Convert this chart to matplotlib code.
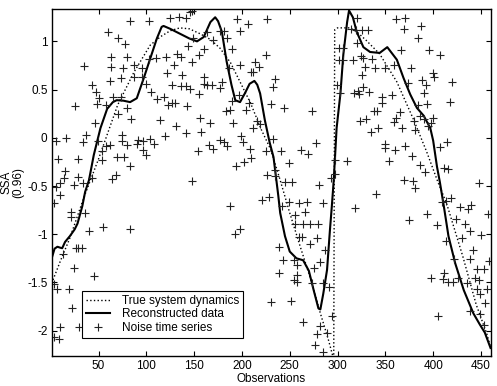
import matplotlib
matplotlib.use("Agg")
import matplotlib.pyplot as plt

# True system dynamics
true_x = [1, 10, 20, 35, 50, 70, 87, 104, 115, 125, 135, 145, 156, 167, 177, 188, 198, 209,
          220, 230, 240, 250, 261, 272, 282, 290, 296,
          297, 300, 313, 320, 330, 344, 362, 379, 393, 405, 414, 431, 445, 456, 460]
true_y = [-1.51, -1.28, -1.04, -0.61, -0.22, 0.34, 0.68, 0.96, 1.05, 1.11, 1.14, 1.13, 1.08, 1.02,
          0.93, 0.78, 0.58, 0.36, 0.09, -0.12, -0.44, -0.78, -1.13, -1.47, -1.82, -2.08, -2.30,
          1.12, 1.14, 1.14, 1.10, 1.01, 0.87, 0.58, 0.20, -0.14, -0.46, -0.68, -1.23, -1.73, -2.03, -2.17]

# Reconstructed data (solid curve)
recon_x = [1, 4, 7, 10, 12, 15, 20, 25, 28, 33, 36, 40, 45, 52, 59, 65, 69, 76, 83, 90, 97, 104,
           111, 116, 118, 125, 135, 145, 153, 160, 167, 172, 175, 179, 184, 189, 193, 198, 203, 208,
           213, 216, 219, 224, 229, 233, 238, 240, 245, 250, 257, 264, 270, 275, 280, 282, 285, 289,
           292, 294, 296, 299, 303, 306, 310, 312, 316, 320, 327, 334, 344, 352, 362, 369, 376, 383,
           390, 397, 400, 404, 407, 411, 416, 423, 432, 442, 449, 454, 460]
recon_y = [-1.25, -1.15, -1.13, -1.14, -1.145, -1.08, -1.02, -0.95, -0.89, -0.71, -0.56, -0.44, -0.18,
           0.10, 0.30, 0.37, 0.39, 0.385, 0.37, 0.41, 0.61, 0.82, 1.03, 1.15, 1.16, 1.13, 1.08, 1.03,
           1.00, 1.045, 1.20, 1.25, 1.21, 1.10, 0.79, 0.55, 0.39, 0.37, 0.46, 0.56, 0.59, 0.55, 0.46,
           0.18, -0.05, -0.20, -0.60, -0.78, -1.02, -1.18, -1.25, -1.27, -1.38, -1.58, -1.77, -1.78,
           -1.62, -1.37, -0.96, -0.71, -0.44, 0.10, 0.46, 0.86, 1.20, 1.32, 1.25, 1.10, 0.94, 0.89,
           0.88, 0.94, 0.81, 0.62, 0.45, 0.31, 0.23, 0.10, -0.03, -0.30, -0.46, -0.70, -1.02, -1.30,
           -1.58, -1.82, -1.94, -2.02, -2.18]

# Noise time series (plus markers)
noise_x = [83, 103, 60, 70, 78, 35, 63, 80, 63, 76, 87, 95, 103, 110, 62, 73, 87, 95, 100, 43, 47, 50,
           48, 58, 65, 73, 80, 70, 84, 25, 46, 105, 111, 114, 5, 16, 34, 37, 49, 58, 62, 75, 75, 80,
           91, 90, 97, 104, 108, 97, 100, 8, 28, 54, 54, 69, 77, 83, 15, 14, 29, 43, 68, 64, 10,
           24, 34, 6, 10, 3, 21, 21, 36, 40, 55, 83, 26, 29, 33, 13, 24, 45, 3, 7, 19, 22, 10, 30, 3, 9,
           125, 134, 141, 146, 148, 195, 206, 198, 226, 163, 177, 181, 184, 149, 170, 144, 160, 155,
           190, 121, 132, 136, 129, 148, 198, 214, 218, 225, 209, 212, 122, 137, 186, 127, 136, 141,
           146, 160, 160, 163, 169, 179, 177, 155, 118, 127, 130, 123, 143, 197, 190, 207, 230, 183,
           188, 204, 156, 167, 191, 216, 219, 212, 131, 120, 141, 157, 177, 181, 184, 166, 170, 199,
           201, 208, 154, 225, 209, 202, 194, 226, 148,
           187, 193, 198, 221, 228, 230,
           320, 314, 319, 326, 332, 320, 301, 306, 302, 306, 316, 324, 327, 336, 329, 339, 326, 299,
           317, 321, 327, 322, 333, 303, 235, 232, 244, 273, 338, 341, 323, 330, 335, 342, 232, 277,
           241, 262, 269, 249, 297, 310, 235, 235, 293, 297, 245, 252,
           361, 371, 369, 387, 384, 396, 407, 366, 359, 350, 377, 400, 401, 388, 420, 392, 374, 346,
           357, 390, 418, 347, 394, 384, 365, 386, 361, 390, 400, 359, 380, 398, 381, 367, 395, 350,
           350, 360, 371, 407, 414, 378, 354, 386, 411, 416, 391, 370, 379, 448,
           281, 340, 318, 242, 249, 260, 268, 266, 285, 256, 256, 264, 271, 280, 260, 263, 278, 271,
           239, 287, 243, 254, 282, 275, 258, 239, 258, 254, 258, 273, 285, 291, 251, 294, 264, 282,
           289, 279, 276, 285,
           381, 409, 413, 419, 428, 436, 440, 457, 394, 375, 404, 424, 433, 438, 450, 430, 413, 442,
           458, 422, 439, 446, 453, 398, 411, 410, 416, 421, 426, 435, 444, 448, 456, 446, 449, 405,
           454, 439, 449, 453]
noise_y = [1.21, 1.21, 1.10, 1.04, 0.97, 0.74, 0.84, 0.84, 0.73, 0.72, 0.76, 0.72, 0.82, 0.83, 0.59,
           0.62, 0.63, 0.63, 0.56, 0.55, 0.47, 0.41, 0.35, 0.34, 0.42, 0.42, 0.31, 0.25, 0.20, 0.33,
           0.15, 0.47, 0.40, 0.18, -0.03, 0.00, -0.04, 0.03, -0.03, -0.08, -0.07, 0.03, -0.03, -0.07,
           -0.02, -0.06, -0.03, -0.01, -0.06, -0.13, -0.18, -0.22, -0.22, -0.14, -0.23, -0.20, -0.20,
           -0.29, -0.34, -0.42, -0.41, -0.42, -0.39, -0.43, -0.47,
           -0.49, -0.47, -0.51, -0.59, -0.68, -0.77, -0.82, -0.78, -0.97, -0.93, -0.95, -1.14, -1.14,
           -1.14, -1.21, -1.35, -1.43, -1.52, -1.57, -1.57, -1.77, -1.96, -1.96, -2.07, -2.09,
           1.24, 1.25, 1.24, 1.30, 1.31, 1.23, 1.18, 1.11, 1.23, 1.10, 1.11, 1.11, 1.03, 1.04, 1.01,
           0.95, 0.92, 0.86, 0.92, 0.84, 0.87, 0.84, 0.75, 0.79, 0.75, 0.79, 0.73, 0.86, 0.68, 0.68,
           0.67, 0.65, 0.72, 0.55, 0.54, 0.54, 0.51, 0.63, 0.56, 0.55, 0.55, 0.58, 0.52, 0.45, 0.42,
           0.36, 0.36, 0.34, 0.33, 0.44, 0.38, 0.36, 0.35, 0.28, 0.29, 0.29, 0.21, 0.15, 0.15, 0.17,
           0.14, 0.10, 0.12, 0.02, 0.05, 0.06, -0.02, -0.04, -0.08, -0.07, -0.12, 0.02, -0.04, -0.12,
           -0.14, -0.14, -0.21, -0.25, -0.29, -0.39, -0.45,
           -0.71, -1.00, -0.95, -0.65, -0.61, -1.70,
           1.24, 1.13, 1.12, 1.12, 1.12, 0.98, 0.93, 0.93, 0.81, 0.81, 0.81, 0.85, 0.83, 0.82, 0.73,
           0.72, 0.65, 0.55, 0.46, 0.49, 0.53, 0.45, 0.48, 0.46, 0.61, 0.53, 0.31, 0.28, 0.28, 0.28,
           0.17, 0.20, 0.06, 0.10, -0.01, -0.05, -0.14, -0.13, -0.17, -0.26, -0.23, -0.24, -0.33,
           -0.40, -0.42, -0.38, -0.46, -0.46,
           1.23, 1.24, 1.13, 1.16, 1.04, 0.91, 0.86, 0.91, 0.76, 0.72, 0.72, 0.67, 0.63, 0.60, 0.58,
           0.55, 0.57, 0.42, 0.44, 0.46, 0.37, 0.36, 0.35, 0.34, 0.27, 0.23, 0.21, 0.20, 0.21, 0.16,
           0.17, 0.15, 0.08, 0.10, 0.12, -0.06, -0.11, -0.13, -0.09, -0.10, -0.04, -0.19, -0.24,
           -0.28, -0.31, -0.32, -0.35, -0.44, -0.45, -0.47,
           -0.49, -0.58, -0.73, -0.71, -0.67, -0.68, -0.67, -0.77, -0.68, -0.80, -0.89, -0.89, -0.89,
           -0.89, -1.03, -1.03, -1.04, -1.10, -1.13, -1.16, -1.27, -1.27, -1.29, -1.35, -1.32, -1.40,
           -1.42, -1.47, -1.50, -1.51, -1.51, -1.55, -1.69, -1.85, -1.91, -1.95, -2.02, -2.03, -2.15,
           -2.22,
           -0.52, -0.67, -0.66, -0.62, -0.72, -0.74, -0.70, -0.79, -0.79, -0.85, -0.90, -0.84, -0.89,
           -0.97, -1.01, -1.04, -1.07, -1.16, -1.28, -1.26, -1.26, -1.36, -1.36, -1.45, -1.40, -1.46,
           -1.50, -1.50, -1.45, -1.51, -1.45, -1.48, -1.57, -1.57, -1.62, -1.85, -1.71, -1.80, -1.83,
           -1.94]

x_ticks = [50, 100, 150, 200, 250, 300, 350, 400, 450]
y_ticks = [-2, -1.5, -1, -0.5, 0, 0.5, 1]
y_tick_labels = ["-2", "-1.5", "-1", "-0.5", "0", "0.5", "1"]

plt.rcParams['font.family'] = ['Liberation Sans', 'DejaVu Sans']

fig = plt.figure(figsize=(4.97, 3.86), dpi=100)
ax = fig.add_axes([0.104, 0.0785, 0.883, 0.898])

ax.plot(true_x, true_y, linestyle=':', color='black', linewidth=1.0,
        label='True system dynamics')
ax.plot(recon_x, recon_y, linestyle='-', color='black', linewidth=1.5,
        label='Reconstructed data')
ax.plot(noise_x, noise_y, linestyle='none', marker='+', color='#222222',
        markersize=5.5, markeredgewidth=0.8, label='Noise time series')

ax.set_xlim(1, 460)
ax.set_ylim(-2.26, 1.335)
ax.set_xticks(x_ticks)
ax.set_yticks(y_ticks)
ax.set_yticklabels(y_tick_labels)
ax.tick_params(direction='in', top=True, right=True, length=3.5, width=0.8,
               labelsize=8.5, pad=3)
for s in ax.spines.values():
    s.set_linewidth(1.0)

ax.set_xlabel('Observations', fontsize=8.5, labelpad=1)
ax.set_ylabel('SSA\n(0.96)', fontsize=8.5, labelpad=2, linespacing=1.0)

leg = ax.legend(loc='lower left', bbox_to_anchor=(0.069, 0.05), borderaxespad=0,
                fontsize=8.5, fancybox=False, framealpha=1, edgecolor='black',
                handlelength=2.0, handletextpad=1.0, labelspacing=0.15,
                borderpad=0.35)
leg.get_frame().set_linewidth(0.8)

fig.savefig('out.png', dpi=100)
